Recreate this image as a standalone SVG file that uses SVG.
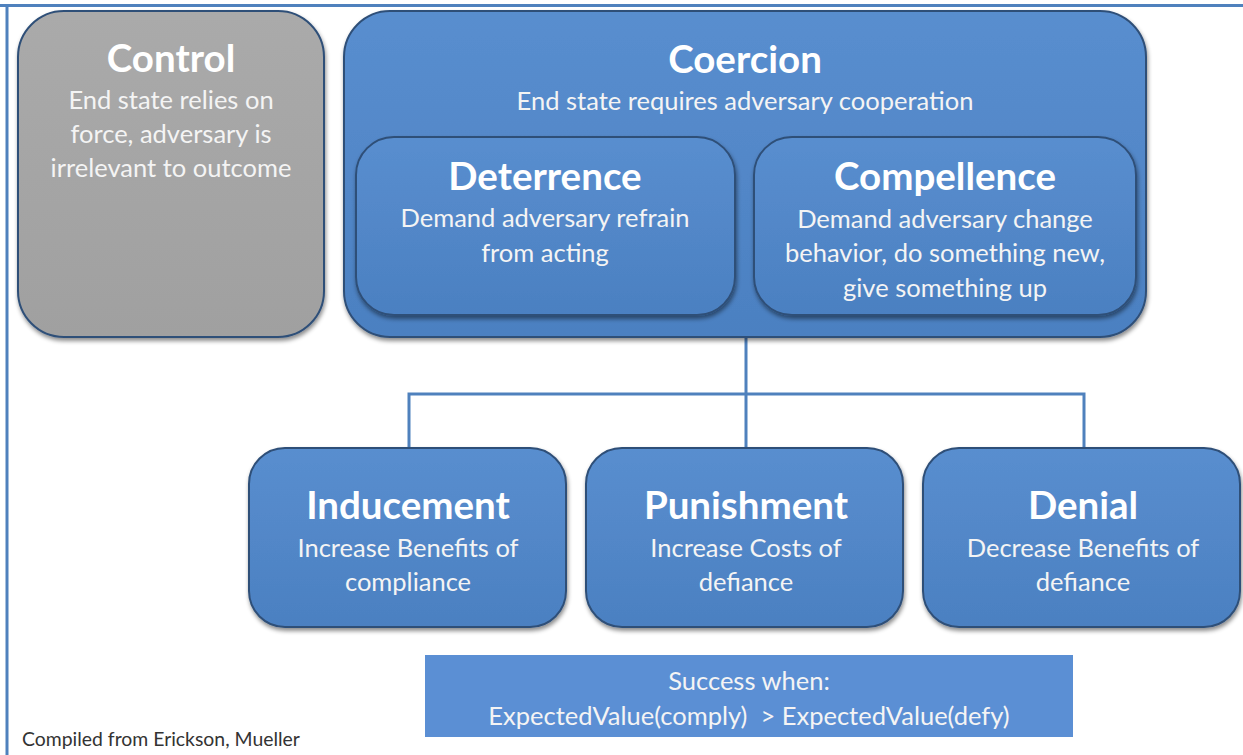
<svg xmlns="http://www.w3.org/2000/svg" width="1243" height="755" viewBox="0 0 1243 755">
<defs>
<linearGradient id="gBlue" x1="0" y1="0" x2="0" y2="1">
<stop offset="0" stop-color="#598ecf"/>
<stop offset="1" stop-color="#4b80c1"/>
</linearGradient>
<linearGradient id="gGray" x1="0" y1="0" x2="0" y2="1">
<stop offset="0" stop-color="#aaaaaa"/>
<stop offset="1" stop-color="#a0a0a0"/>
</linearGradient>
<filter id="sh" x="-10%" y="-10%" width="120%" height="125%">
<feDropShadow dx="1" dy="3" stdDeviation="2" flood-color="#000" flood-opacity="0.45"/>
</filter>
</defs>
<style>
.box{fill:url(#gBlue);stroke:#2f4f78;stroke-width:2;filter:url(#sh)}
.gray{fill:url(#gGray);stroke:#2f4f78;stroke-width:2;filter:url(#sh)}
.t{font-family:Lato,"Open Sans","Liberation Sans",sans-serif;font-weight:bold;font-size:38.5px;fill:#fff;text-anchor:middle}
.s{font-family:Lato,"Open Sans","Liberation Sans",sans-serif;font-size:25.5px;fill:#f4f4f4;text-anchor:middle}
.c{fill:none;stroke:#4f81bd;stroke-width:3}
</style>
<rect width="1243" height="755" fill="#fff"/>
<line x1="0" y1="5.5" x2="1243" y2="5.5" stroke="#4f81bd" stroke-width="3"/>
<line x1="7" y1="5" x2="7" y2="755" stroke="#4f81bd" stroke-width="3"/>

<g id="connectors">
<path class="c" d="M746 338 V448 M409 448 V394 H1084 V448"/>
</g>

<g id="control">
<rect class="gray" x="18" y="11" width="306" height="326" rx="46"/>
<text class="t" x="171" y="72">Control</text>
<text class="s" x="171" y="109">End state relies on</text>
<text class="s" x="171" y="143">force, adversary is</text>
<text class="s" x="171" y="177">irrelevant to outcome</text>
</g>

<g id="coercion">
<rect class="box" x="344" y="11" width="802" height="326" rx="46"/>
<text class="t" x="745" y="73">Coercion</text>
<text class="s" x="745" y="110">End state requires adversary cooperation</text>
</g>

<g id="deterrence">
<rect class="box" x="356" y="137" width="379" height="178" rx="38"/>
<text class="t" x="545" y="190">Deterrence</text>
<text class="s" x="545" y="227">Demand adversary refrain</text>
<text class="s" x="545" y="262">from acting</text>
</g>

<g id="compellence">
<rect class="box" x="754" y="137" width="382" height="178" rx="38"/>
<text class="t" x="945" y="190">Compellence</text>
<text class="s" x="945" y="228">Demand adversary change</text>
<text class="s" x="945" y="262">behavior, do something new,</text>
<text class="s" x="945" y="297">give something up</text>
</g>

<g id="inducement">
<rect class="box" x="249" y="448" width="317" height="179" rx="36"/>
<text class="t" x="408" y="519">Inducement</text>
<text class="s" x="408" y="557">Increase Benefits of</text>
<text class="s" x="408" y="591">compliance</text>
</g>

<g id="punishment">
<rect class="box" x="586" y="448" width="317" height="179" rx="36"/>
<text class="t" x="746" y="519">Punishment</text>
<text class="s" x="746" y="557">Increase Costs of</text>
<text class="s" x="746" y="591">defiance</text>
</g>

<g id="denial">
<rect class="box" x="923" y="448" width="317" height="179" rx="36"/>
<text class="t" x="1083" y="519">Denial</text>
<text class="s" x="1083" y="557">Decrease Benefits of</text>
<text class="s" x="1083" y="591">defiance</text>
</g>

<g id="success">
<rect x="425" y="655" width="648" height="82" fill="#5b8fd4"/>
<text class="s" x="749" y="690">Success when:</text>
<text class="s" x="749" y="725" xml:space="preserve">ExpectedValue(comply)  &gt; ExpectedValue(defy)</text>
</g>

<g id="credit">
<text x="22" y="746" font-family="Lato,'Open Sans','Liberation Sans',sans-serif" font-size="19.4" fill="#333">Compiled from Erickson, Mueller</text>
</g>
</svg>
